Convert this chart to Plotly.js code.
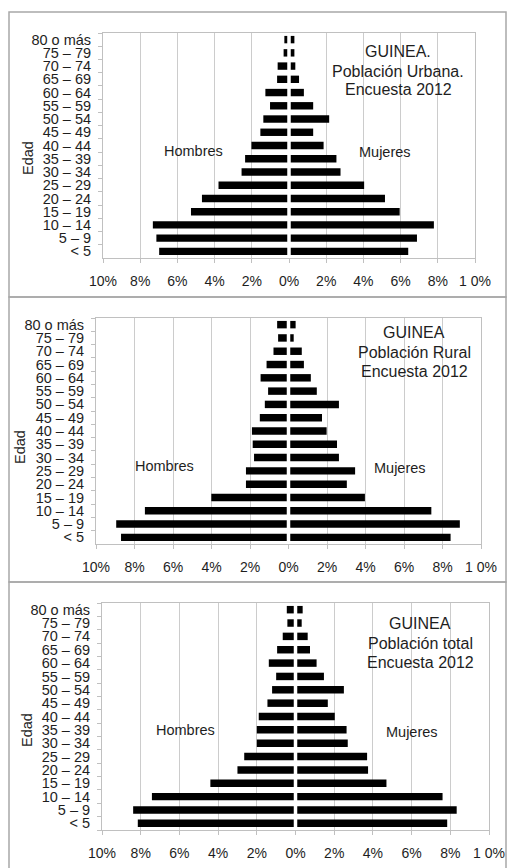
<!DOCTYPE html>
<html>
<head>
<meta charset="utf-8">
<script src="https://cdn.plot.ly/plotly-3.0.1.min.js"></script>
<style>html,body{margin:0;padding:0;background:#fff;}#chart{width:509px;height:868px;}</style>
</head>
<body>
<div id="chart"></div>
<script>
const categories = ["< 5","5 – 9","10 – 14","15 – 19","20 – 24","25 – 29","30 – 34","35 – 39","40 – 44","45 – 49","50 – 54","55 – 59","60 – 64","65 – 69","70 – 74","75 – 79","80 o más"];

const urbanMen   = [6.98,7.13,7.32,5.27,4.68,3.79,2.55,2.36,2.02,1.54,1.38,1.02,1.27,0.64,0.61,0.29,0.25];
const urbanWomen = [6.41,6.88,7.79,5.95,5.16,4.04,2.77,2.55,1.86,1.30,2.16,1.30,0.80,0.54,0.34,0.29,0.29];
const ruralMen   = [8.70,8.95,7.46,4.01,2.21,2.21,1.79,1.86,1.90,1.49,1.23,1.06,1.45,1.14,0.78,0.54,0.59];
const ruralWomen = [8.42,8.90,7.42,3.97,3.03,3.46,2.62,2.52,1.98,1.74,2.62,1.47,1.16,0.80,0.69,0.27,0.37];
const totalMen   = [8.15,8.39,7.42,4.40,3.00,2.65,2.00,2.00,1.90,1.45,1.21,1.00,1.38,0.95,0.66,0.42,0.45];
const totalWomen = [7.84,8.33,7.60,4.70,3.75,3.70,2.70,2.64,2.03,1.67,2.50,1.47,1.09,0.75,0.63,0.32,0.37];

const xTickVals = [-10,-8,-6,-4,-2,0,2,4,6,8,10];
const xTickText = ["10%","8%","6%","4%","2%","0%","2%","4%","6%","8%","1 0%"];

const panelTitles = [
  ["GUINEA.","Población Urbana.","Encuesta 2012"],
  ["GUINEA","Población Rural","Encuesta 2012"],
  ["GUINEA","Población total","Encuesta 2012"]
];
const yTitle = "Edad";
const menLabel = "Hombres";
const womenLabel = "Mujeres";

// ---- layout geometry (pixels) ----
const W = 509, H = 868;
const FONT = "Liberation Sans, Arial, sans-serif";
const TXT = "#1e1e1e";
const px = x => x / W;
const py = y => 1 - y / H;

const panels = [
  {men: urbanMen, women: urbanWomen, x0: 103, x1: 475, y0: 33, y1: 258,
   titleX: 398, titleY: [52, 72, 90], edad: [28, 158], hom: [193, 151], muj: [385, 152],
   frame: [9, 12, 506, 297]},
  {men: ruralMen, women: ruralWomen, x0: 96, x1: 481, y0: 318, y1: 544,
   titleX: 414, titleY: [332, 352, 371], edad: [20, 447], hom: [164, 466], muj: [400, 468],
   frame: [9, 297, 506, 582]},
  {men: totalMen, women: totalWomen, x0: 102, x1: 489, y0: 603, y1: 830,
   titleX: 420, titleY: [623, 643, 662], edad: [27, 730], hom: [185, 730], muj: [412, 732],
   frame: [9, 582, 506, 870]}
];

const data = [];
const layout = {
  width: W, height: H, autosize: false,
  margin: {l: 0, r: 0, t: 0, b: 0, pad: 0},
  paper_bgcolor: "#ffffff", plot_bgcolor: "#ffffff",
  showlegend: false,
  barmode: "overlay",
  bargap: 0.44,
  font: {family: FONT, color: TXT, size: 14},
  annotations: [],
  shapes: []
};

panels.forEach((p, i) => {
  const n = i === 0 ? "" : String(i + 1);
  const xa = "x" + n, ya = "y" + n;
  data.push({
    type: "bar", orientation: "h", y: categories, x: p.men.map(v => -v),
    xaxis: xa, yaxis: ya, marker: {color: "#000000", line: {width: 0}}, hoverinfo: "skip"
  });
  data.push({
    type: "bar", orientation: "h", y: categories, x: p.women,
    xaxis: xa, yaxis: ya, marker: {color: "#000000", line: {width: 0}}, hoverinfo: "skip"
  });
  layout["xaxis" + n] = {
    domain: [px(p.x0), px(p.x1)], anchor: ya, range: [-10, 10],
    tickmode: "array", tickvals: xTickVals, ticktext: xTickText,
    showgrid: true, gridcolor: "#cccccc", gridwidth: 1, zeroline: false,
    showline: true, mirror: true, linecolor: "#c0c0c0", linewidth: 1,
    ticks: "outside", ticklen: 4, tickcolor: "#c0c0c0",
    ticklabelstandoff: 6,
    tickfont: {family: FONT, size: 14, color: TXT}, fixedrange: true
  };
  layout["yaxis" + n] = {
    domain: [py(p.y1), py(p.y0)], anchor: xa, type: "category",
    range: [-0.5, categories.length - 0.5],
    tickmode: "array", tickvals: categories, ticktext: categories,
    showgrid: false, zeroline: false,
    showline: true, mirror: true, linecolor: "#c0c0c0", linewidth: 1,
    ticks: "outside", ticklen: 4, tickcolor: "#c0c0c0", tickson: "boundaries",
    ticklabelstandoff: 8,
    tickfont: {family: FONT, size: 14.5, color: TXT}, fixedrange: true
  };
  // white divider at 0
  layout.shapes.push({
    type: "line", xref: xa, yref: ya, x0: 0, x1: 0, y0: -0.5, y1: categories.length - 0.5,
    line: {color: "#ffffff", width: 3.5}, layer: "above"
  });
  // panel frame
  layout.shapes.push({
    type: "rect", xref: "paper", yref: "paper",
    x0: px(p.frame[0]), x1: px(p.frame[2]), y0: py(p.frame[3]), y1: py(p.frame[1]),
    line: {color: "#a8a8a8", width: 1.5}, fillcolor: "rgba(0,0,0,0)", layer: "below"
  });
  panelTitles[i].forEach((t, k) => {
    layout.annotations.push({
      text: t, xref: "paper", yref: "paper", x: px(p.titleX), y: py(p.titleY[k]),
      xanchor: "center", yanchor: "middle", showarrow: false,
      font: {family: FONT, size: 16, color: TXT}
    });
  });
  layout.annotations.push({
    text: yTitle, xref: "paper", yref: "paper", x: px(p.edad[0]), y: py(p.edad[1]),
    xanchor: "center", yanchor: "middle", showarrow: false, textangle: -90,
    font: {family: FONT, size: 14.5, color: TXT}
  });
  layout.annotations.push({
    text: menLabel, xref: "paper", yref: "paper", x: px(p.hom[0]), y: py(p.hom[1]),
    xanchor: "center", yanchor: "middle", showarrow: false,
    font: {family: FONT, size: 14.5, color: TXT}
  });
  layout.annotations.push({
    text: womenLabel, xref: "paper", yref: "paper", x: px(p.muj[0]), y: py(p.muj[1]),
    xanchor: "center", yanchor: "middle", showarrow: false,
    font: {family: FONT, size: 14.5, color: TXT}
  });
});

Plotly.newPlot("chart", data, layout, {staticPlot: true, displayModeBar: false});
</script>
</body>
</html>
